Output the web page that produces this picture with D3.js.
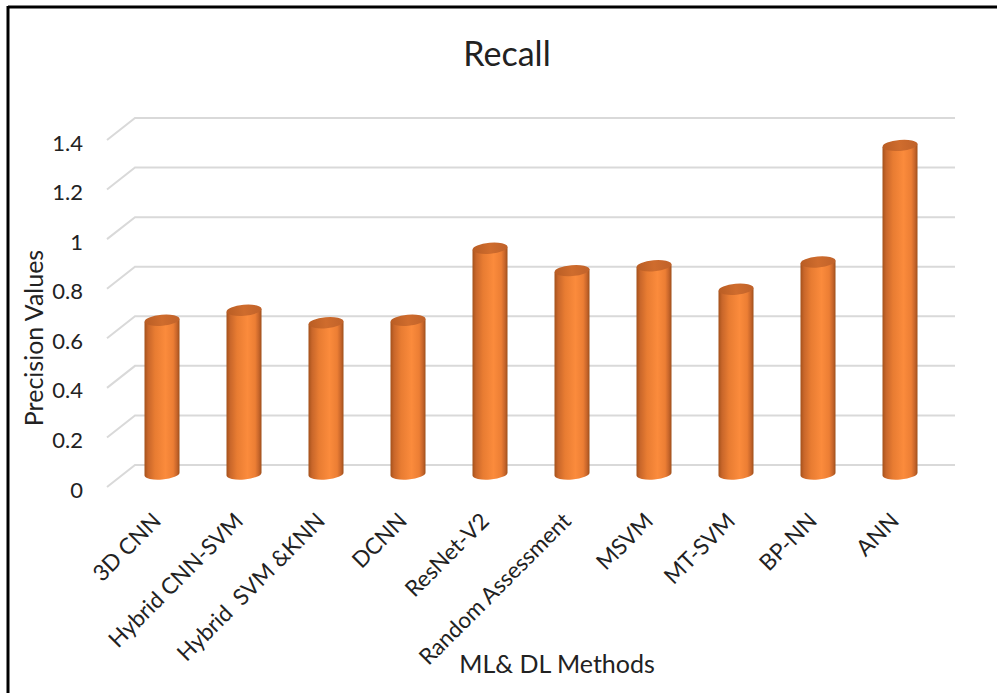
<!DOCTYPE html>
<html>
<head>
<meta charset="utf-8">
<script src="https://cdn.jsdelivr.net/npm/d3@7"></script>
<style>
  html, body { margin: 0; padding: 0; background: #fff; }
  svg { display: block; }
  text { font-family: Lato, "Open Sans", sans-serif; fill: #222; }
</style>
</head>
<body>
<svg id="chart" width="997" height="693"></svg>
<script>
// Recall per method
const categories = ["3D CNN", "Hybrid CNN-SVM", "Hybrid  SVM &KNN", "DCNN", "ResNet-V2",
                    "Random Assessment", "MSVM", "MT-SVM", "BP-NN", "ANN"];
const recall = [0.62, 0.66, 0.61, 0.62, 0.91, 0.82, 0.84, 0.745, 0.855, 1.325];
const yTicks = [0, 0.2, 0.4, 0.6, 0.8, 1, 1.2, 1.4];
const titleText = "Recall";
const xTitle = "ML& DL Methods";
const yTitle = "Precision Values";

const svg = d3.select("#chart");
const W = 997, H = 693;

// frame around the figure
svg.append("line").attr("x1", 8).attr("x2", W).attr("y1", 7).attr("y2", 7)
  .attr("stroke", "#000").attr("stroke-width", 3);
svg.append("line").attr("x1", 8).attr("x2", 8).attr("y1", 6).attr("y2", H)
  .attr("stroke", "#000").attr("stroke-width", 3);

// 3D depth offset of the back wall
const depthX = 28, depthY = -22;

// front-plane value scale (labels sit here)
const yFront = d3.scaleLinear().domain([0, 1.4]).range([487, 140]);
// mid-depth plane where the cylinders stand
const yMid = d3.scaleLinear().domain([0, 1.4]).range([474, 474 - 1.4 * 248]);

const x = d3.scaleBand().domain(categories).range([121, 941]).paddingInner(0).paddingOuter(0);

// gridlines: floor diagonal + back wall
const grid = svg.append("g");
yTicks.forEach(t => {
  const yf = yFront(t), yb = yf + depthY;
  grid.append("path")
    .attr("d", `M107,${yf}L${107 + depthX},${yb}L955,${yb}`)
    .attr("fill", "none").attr("stroke", "#d9d9d9").attr("stroke-width", 2);
});

// y tick labels
const yAxis = d3.axisLeft(yFront).tickValues(yTicks).tickSize(0).tickPadding(0)
  .tickFormat(d => d3.format("")(+d.toFixed(1)));
const ya = svg.append("g").attr("transform", "translate(83,3)").call(yAxis);
ya.select(".domain").remove();
ya.selectAll("text").style("font-size", "22px").style("font-family", "Lato, sans-serif").attr("fill", "#222");

// cylinder gradients
const defs = svg.append("defs");
const gBody = defs.append("linearGradient").attr("id", "body").attr("x1", 0).attr("x2", 1).attr("y1", 0).attr("y2", 0);
[[0, "#a4511b"], [0.1, "#c8662a"], [0.3, "#e87c32"], [0.6, "#fb8b3c"], [0.82, "#ec7e34"], [0.93, "#c5642a"], [1, "#9e4f1a"]]
  .forEach(([o, c]) => gBody.append("stop").attr("offset", o).attr("stop-color", c));
const gTop = defs.append("linearGradient").attr("id", "top").attr("x1", 0).attr("x2", 1).attr("y1", 0).attr("y2", 0);
[[0, "#b95d24"], [0.5, "#cf6c2d"], [1, "#c0622a"]]
  .forEach(([o, c]) => gTop.append("stop").attr("offset", o).attr("stop-color", c));

const barW = 35, ry = 5.5, tilt = -5;
const dTilt = (barW / 2) * Math.sin(-tilt * Math.PI / 180);

const bars = svg.append("g").selectAll("g").data(categories.map((c, i) => ({ c, v: recall[i] })))
  .join("g")
  .attr("transform", d => `translate(${x(d.c) + x.bandwidth() / 2},0)`);

bars.append("path")
  .attr("d", d => {
    const yt = yMid(d.v), yb = yMid(0), r = barW / 2;
    return `M${-r},${yt + dTilt}L${-r},${yb + dTilt}A${r},${ry} ${tilt} 0 0 ${r},${yb - dTilt}L${r},${yt - dTilt}Z`;
  })
  .attr("fill", "url(#body)");

bars.append("ellipse")
  .attr("cx", 0).attr("cy", d => yMid(d.v))
  .attr("rx", barW / 2).attr("ry", ry)
  .attr("transform", d => `rotate(${tilt},0,${yMid(d.v)})`)
  .attr("fill", "url(#top)");

// category labels, rotated
svg.append("g").selectAll("text").data(categories).join("text")
  .attr("transform", d => `translate(${x(d) + x.bandwidth() / 2 - 11},${511}) rotate(-45)`)
  .attr("text-anchor", "end")
  .attr("dy", "0.72em")
  .style("font-size", "22.5px")
  .style("white-space", "pre")
  .text(d => d);

// titles
svg.append("text").attr("x", 507).attr("y", 66).attr("text-anchor", "middle")
  .style("font-size", "34px").text(titleText);
svg.append("text").attr("x", 557).attr("y", 673).attr("text-anchor", "middle")
  .style("font-size", "25px").text(xTitle);
svg.append("text").attr("transform", "translate(43,338) rotate(-90)").attr("text-anchor", "middle")
  .style("font-size", "25px").text(yTitle);
</script>
</body>
</html>
